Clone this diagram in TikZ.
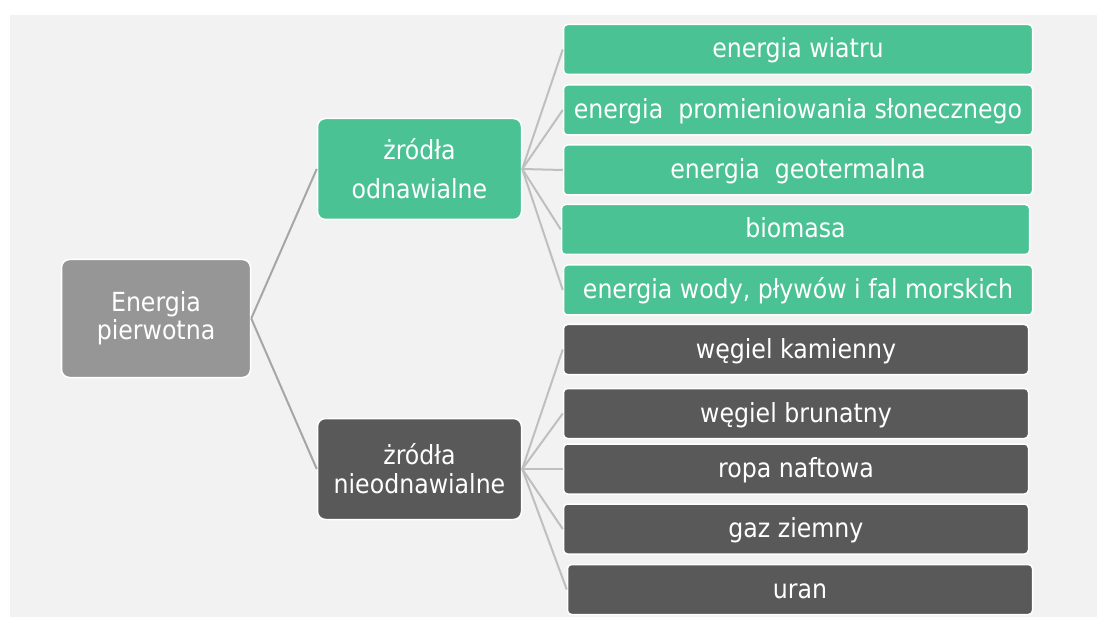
\documentclass[tikz,border=0pt]{standalone}
\usepackage{fontspec}
\setmainfont{DejaVu Sans Condensed}
\definecolor{bgc}{HTML}{F2F2F2}
\definecolor{grn}{HTML}{4AC294}
\definecolor{drk}{HTML}{595959}
\definecolor{mid}{HTML}{969696}
\definecolor{lnc}{HTML}{BFBFBF}
\definecolor{lnd}{HTML}{A6A6A6}
\newcommand{\boxfont}{\fontsize{26.3}{28}\selectfont}
\begin{document}
\begin{tikzpicture}[x=1pt, y=-1pt, every node/.style={font=\boxfont, text=white}]
  \tikzstyle{src}=[draw=white,line width=1.5pt,rounded corners=8pt,minimum width=204pt,minimum height=101pt,align=center,inner sep=0pt]
  \tikzstyle{it}=[draw=white,line width=1.5pt,rounded corners=4pt,minimum height=50pt,text height=17pt,text depth=0pt,inner sep=0pt]
  \tikzstyle{ln}=[draw=lnc,line width=2pt]
  \useasboundingbox (0,0) rectangle (1097,617);
  \fill[bgc] (10,15) rectangle (1097,617);
  % root and the two groups
  \node[src,fill=mid,minimum width=189pt,minimum height=118pt] (pier) at (156,318.5) {Energia\\pierwotna};
  \node[src,fill=grn,font=\fontsize{26.3}{39}\selectfont] (odn) at (419.5,169) {żródła\\odnawialne};
  \node[src,fill=drk,font=\fontsize{26.3}{29}\selectfont] (nieodn) at (419.5,469) {żródła\\nieodnawialne};
  % renewable
  \node[it,fill=grn,minimum width=469pt] (wiatr) at (798,49.5) {energia wiatru};
  \node[it,fill=grn,minimum width=469pt] (slonce) at (798,110) {energia~~promieniowania słonecznego};
  \node[it,fill=grn,minimum width=469pt] (geo) at (798,170) {energia~~geotermalna};
  \node[it,fill=grn,minimum width=468pt] (bio) at (795.5,229.5) {biomasa};
  \node[it,fill=grn,minimum width=469pt] (woda) at (798,290) {energia wody, pływów i fal morskich};
  % non-renewable
  \node[it,fill=drk,minimum width=465pt] (kam) at (796,349.5) {węgiel kamienny};
  \node[it,fill=drk,minimum width=465pt] (brun) at (796,413.5) {węgiel brunatny};
  \node[it,fill=drk,minimum width=465pt] (ropa) at (796,469) {ropa naftowa};
  \node[it,fill=drk,minimum width=465pt] (gaz) at (796,529) {gaz ziemny};
  \node[it,fill=drk,minimum width=465pt] (uran) at (800,589.5) {uran};
  % connectors
  \draw[ln,draw=lnd] (pier.east) -- (odn.west); \draw[ln,draw=lnd] (pier.east) -- (nieodn.west);
  \draw[ln] (odn.east) -- (wiatr.west); \draw[ln] (odn.east) -- (slonce.west);
  \draw[ln] (odn.east) -- (geo.west); \draw[ln] (odn.east) -- (bio.west);
  \draw[ln] (odn.east) -- (woda.west);
  \draw[ln] (nieodn.east) -- (kam.west); \draw[ln] (nieodn.east) -- (brun.west);
  \draw[ln] (nieodn.east) -- (ropa.west); \draw[ln] (nieodn.east) -- (gaz.west);
  \draw[ln] (nieodn.east) -- (uran.west);
\end{tikzpicture}
\end{document}
